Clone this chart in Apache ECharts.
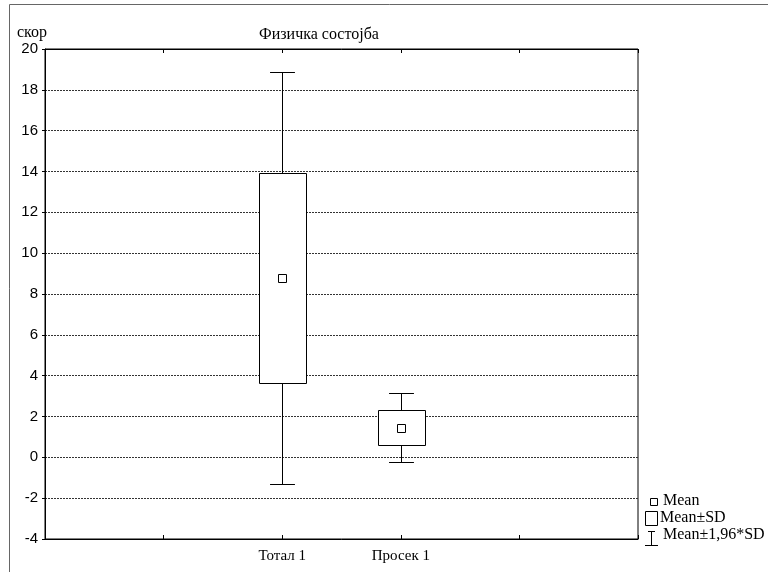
<!DOCTYPE html>
<html>
<head>
<meta charset="utf-8">
<script src="https://cdn.jsdelivr.net/npm/echarts@6/dist/echarts.min.js"></script>
<style>
  html, body { margin: 0; padding: 0; background: #fff; }
  #chart { width: 768px; height: 572px; }
</style>
</head>
<body>
<div id="chart"></div>
<script>
// Group names and positions on the horizontal scale
const categories = ['Тотал 1', 'Просек 1'];
const positions = [2, 3];
// Summary statistics per group
const means = [8.79, 1.46];
const sds = [5.14, 0.86];
const yTicks = { min: -4, max: 20, step: 2 };

const serif = '"Liberation Serif", "DejaVu Serif", serif';
const sans = '"Liberation Sans", Arial, sans-serif';

const boxData = positions.map((p, i) => [
  p,
  means[i],
  means[i] - sds[i],
  means[i] + sds[i],
  means[i] - 1.96 * sds[i],
  means[i] + 1.96 * sds[i]
]);

const chart = echarts.init(document.getElementById('chart'), null, { renderer: 'canvas' });

function renderBox(params, api) {
  const x = api.value(0);
  const mean = api.value(1);
  const lo = api.value(2), hi = api.value(3);
  const wLo = api.value(4), wHi = api.value(5);
  const unit = api.size([1, 0])[0];
  const boxW = unit * 0.4;
  const capW = unit * 0.21;
  const pMean = api.coord([x, mean]);
  const pLo = api.coord([x, lo]);
  const pHi = api.coord([x, hi]);
  const pwLo = api.coord([x, wLo]);
  const pwHi = api.coord([x, wHi]);
  const cx = Math.round(pMean[0]) + 0.5;
  const r = v => Math.round(v) + 0.5;
  const line = { stroke: '#000', lineWidth: 1 };
  return {
    type: 'group',
    children: [
      { type: 'line', shape: { x1: cx, y1: r(pwHi[1]), x2: cx, y2: r(pwLo[1]) }, style: line },
      { type: 'line', shape: { x1: cx - capW / 2, y1: r(pwHi[1]), x2: cx + capW / 2, y2: r(pwHi[1]) }, style: line },
      { type: 'line', shape: { x1: cx - capW / 2, y1: r(pwLo[1]), x2: cx + capW / 2, y2: r(pwLo[1]) }, style: line },
      { type: 'rect', shape: { x: r(cx - boxW / 2), y: r(pHi[1]), width: Math.round(boxW), height: Math.round(pLo[1] - pHi[1]) },
        style: { fill: '#fff', stroke: '#000', lineWidth: 1 } },
      { type: 'rect', shape: { x: cx - 4, y: r(pMean[1]) - 4, width: 8, height: 8 },
        style: { fill: '#fff', stroke: '#000', lineWidth: 1 } }
    ]
  };
}

chart.setOption({
  animation: false,
  backgroundColor: '#fff',
  title: {
    text: 'Физичка состојба',
    left: 314, top: 22, textAlign: 'center',
    textStyle: { fontFamily: serif, fontSize: 16, fontWeight: 'normal', color: '#000' }
  },
  grid: { left: 45, top: 49, right: 130, bottom: 33, show: true, borderColor: '#000', borderWidth: 1 },
  xAxis: [{
    type: 'value', min: 0, max: 5, interval: 1,
    axisLine: { show: true, onZero: false, lineStyle: { color: '#000' } },
    axisTick: { show: true, inside: true, length: 4, lineStyle: { color: '#000' } },
    splitLine: { show: false },
    axisLabel: {
      margin: 10,
      fontFamily: serif, fontSize: 15, color: '#000',
      formatter: v => { const k = positions.indexOf(v); return k >= 0 ? categories[k] : ''; }
    }
  }, {
    type: 'value', position: 'top', min: 0, max: 5, interval: 1,
    axisLine: { show: true, onZero: false, lineStyle: { color: '#000' } },
    axisTick: { show: true, inside: true, length: 4, lineStyle: { color: '#000' } },
    axisLabel: { show: false }, splitLine: { show: false }
  }],
  yAxis: {
    type: 'value', min: yTicks.min, max: yTicks.max, interval: yTicks.step,
    name: 'скор', nameLocation: 'end', nameGap: 8,
    nameTextStyle: { fontFamily: serif, fontSize: 16, color: '#000', align: 'left', padding: [0, 0, 0, -28] },
    axisLine: { show: true, lineStyle: { color: '#000' } },
    axisTick: { show: true, length: 3, lineStyle: { color: '#000' } },
    axisLabel: { fontFamily: sans, fontSize: 15, color: '#000', margin: 7 },
    splitLine: { show: true, lineStyle: { color: '#333', type: [2, 1], width: 1 } }
  },
  series: [{
    type: 'custom',
    renderItem: renderBox,
    data: boxData,
    encode: { x: 0, y: [1, 2, 3, 4, 5] },
    z: 5
  }],
  graphic: [
    { type: 'rect', silent: true, shape: { x: 9.5, y: 4.5, width: 800, height: 600 },
      style: { fill: null, stroke: '#666', lineWidth: 1 } },
    // legend
    { type: 'rect', shape: { x: 650.5, y: 498.5, width: 7, height: 7 }, style: { fill: '#fff', stroke: '#000', lineWidth: 1 } },
    { type: 'text', left: 663, top: 493, style: { text: 'Mean', font: '16px ' + serif, fill: '#000' } },
    { type: 'rect', shape: { x: 645.5, y: 511.5, width: 12, height: 14 }, style: { fill: '#fff', stroke: '#000', lineWidth: 1 } },
    { type: 'text', left: 660, top: 510, style: { text: 'Mean±SD', font: '16px ' + serif, fill: '#000' } },
    { type: 'line', shape: { x1: 648, y1: 531.5, x2: 655, y2: 531.5 }, style: { stroke: '#000', lineWidth: 1 } },
    { type: 'line', shape: { x1: 651.5, y1: 531, x2: 651.5, y2: 545 }, style: { stroke: '#000', lineWidth: 1 } },
    { type: 'line', shape: { x1: 645, y1: 545.5, x2: 658, y2: 545.5 }, style: { stroke: '#000', lineWidth: 1 } },
    { type: 'text', left: 663, top: 527, style: { text: 'Mean±1,96*SD', font: '16px ' + serif, fill: '#000' } }
  ]
});
</script>
</body>
</html>
